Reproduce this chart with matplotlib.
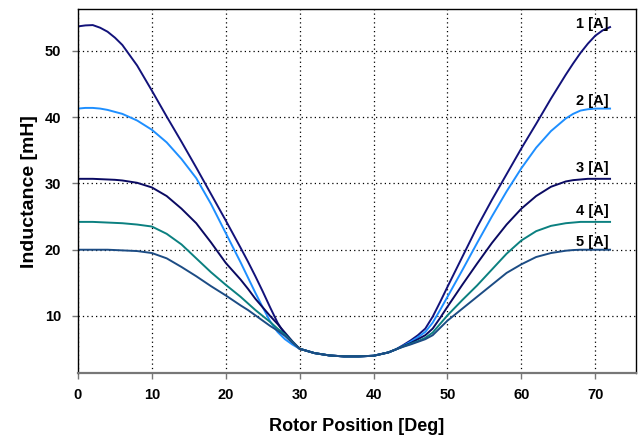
import numpy as np
import matplotlib.pyplot as plt

# rotor position [deg]
position = [0, 1, 2, 3, 4, 5, 6,
            8, 10, 12, 14, 16, 18, 20,
            22, 23, 24, 25, 26, 27, 28, 29, 30,
            32, 34, 36, 38, 40, 42,
            43, 44, 45, 46, 47, 48, 49, 50,
            52, 54, 56, 58, 60, 62, 64, 66,
            67, 68, 69, 70, 71, 72]

# inductance [mH] for each phase current
L_1A = [53.7, 53.85, 53.9, 53.5, 52.9, 52.0, 50.9,
        47.8, 44.0, 40.1, 36.3, 32.4, 28.4, 24.4,
        20.3, 18.2, 16.0, 13.7, 11.3, 9.0, 7.2, 6.0, 5.05,
        4.4, 4.05, 3.9, 3.9, 4.0, 4.5,
        4.95, 5.6, 6.3, 7.1, 8.1, 9.9, 12.1, 14.4,
        18.9, 23.4, 27.5, 31.4, 35.3, 39.0, 42.8, 46.4,
        48.1, 49.7, 51.1, 52.3, 53.1, 53.6]
L_2A = [41.3, 41.4, 41.4, 41.3, 41.1, 40.8, 40.5,
        39.5, 38.1, 36.2, 33.7, 30.8, 26.9, 22.5,
        18.1, 15.8, 13.5, 11.3, 9.2, 7.6, 6.5, 5.7, 5.05,
        4.4, 4.05, 3.9, 3.9, 4.0, 4.5,
        4.95, 5.5, 6.1, 6.8, 7.6, 9.0, 10.9, 12.9,
        16.9, 21.0, 25.0, 28.8, 32.3, 35.4, 37.9, 39.8,
        40.5, 41.0, 41.2, 41.3, 41.3, 41.3]
L_3A = [30.7, 30.7, 30.7, 30.65, 30.6, 30.55, 30.45,
        30.1, 29.4, 28.1, 26.2, 24.0, 21.1, 18.0,
        15.5, 14.1, 12.6, 11.3, 10.0, 8.8, 7.5, 6.2, 5.05,
        4.4, 4.05, 3.9, 3.9, 4.0, 4.5,
        4.95, 5.45, 5.9, 6.5, 7.1, 8.1, 9.7, 11.4,
        14.7, 17.9, 21.0, 23.8, 26.2, 28.1, 29.5, 30.3,
        30.5, 30.6, 30.7, 30.7, 30.7, 30.7]
L_4A = [24.2, 24.2, 24.2, 24.15, 24.1, 24.05, 24.0,
        23.8, 23.5, 22.4, 20.8, 18.7, 16.6, 14.7,
        12.9, 11.9, 10.9, 10.0, 9.1, 8.1, 7.2, 6.1, 5.05,
        4.4, 4.05, 3.9, 3.9, 4.0, 4.5,
        4.95, 5.4, 5.8, 6.2, 6.7, 7.5, 8.8, 10.1,
        12.4, 14.6, 17.0, 19.4, 21.4, 22.8, 23.6, 24.0,
        24.1, 24.2, 24.2, 24.2, 24.2, 24.2]
L_5A = [20.0, 20.0, 20.0, 20.0, 20.0, 19.95, 19.9,
        19.8, 19.5, 18.7, 17.4, 16.0, 14.5, 13.1,
        11.6, 10.9, 10.1, 9.3, 8.5, 7.8, 7.0, 6.0, 5.05,
        4.4, 4.05, 3.9, 3.9, 4.0, 4.5,
        4.95, 5.35, 5.7, 6.1, 6.5, 7.1, 8.2, 9.3,
        11.1, 12.9, 14.7, 16.5, 17.8, 18.9, 19.5, 19.85,
        19.95, 20.0, 20.0, 20.0, 20.0, 20.0]

labels = ['1 [A]', '2 [A]', '3 [A]', '4 [A]', '5 [A]']
label_y = [54.1, 42.4, 32.3, 25.8, 21.2]
colors = ['#12127a', '#1e8fff', '#0a0a62', '#0b8080', '#1c4c84']

plt.rcParams['font.family'] = ['Liberation Sans', 'DejaVu Sans']

fig = plt.figure(figsize=(6.43, 4.37), dpi=100)
ax = fig.add_axes([0.1213, 0.1465, 0.8677, 0.8325])

for ys, c in zip([L_1A, L_2A, L_3A, L_4A, L_5A], colors):
    ax.plot(position, ys, color=c, linewidth=1.4)

for lab, ly in zip(labels, label_y):
    ax.text(71.8, ly, lab, ha='right', va='center', fontsize=10.5, fontweight='bold')

ax.set_xlim(0, 75.5)
ax.set_ylim(1.4, 56.3)
ax.set_xticks(range(0, 71, 10))
ax.set_yticks(range(10, 51, 10))
ax.grid(True, color='black', linestyle=(0, (1, 2.5)), linewidth=0.9)

for lbl in ax.get_xticklabels() + ax.get_yticklabels():
    lbl.set_fontweight('bold')
ax.tick_params(axis='both', labelsize=10.5, color='#777777', length=4, width=1)
ax.tick_params(axis='x', pad=7)
ax.tick_params(axis='y', pad=8)

ax.spines['bottom'].set_color('#777777')
ax.spines['bottom'].set_linewidth(1.6)
for s in ['left', 'top', 'right']:
    ax.spines[s].set_color('black')
    ax.spines[s].set_linewidth(1.0)

ax.set_xlabel('Rotor Position [Deg]', fontsize=13, fontweight='bold', labelpad=11)
ax.set_ylabel('Inductance [mH]', fontsize=14, fontweight='bold', labelpad=5)

fig.savefig('out.png', dpi=100)
